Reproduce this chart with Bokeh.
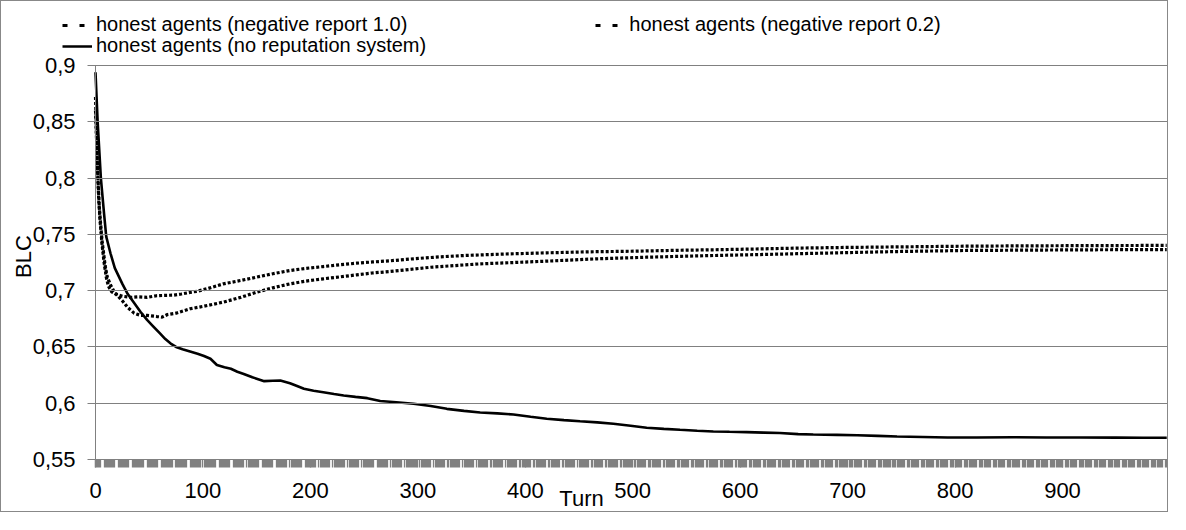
import math
from bokeh.plotting import figure
from bokeh.models import (Range1d, FixedTicker, CustomJSTickFormatter, Legend, LegendItem,
                          Label, LinearAxis)
from bokeh.embed import file_html
from bokeh.resources import INLINE

# ---------------- data ----------------
solid_t = [0, 2, 5, 8, 10, 14, 18, 25, 30, 36, 42, 48, 53, 60, 65, 70, 75, 81, 88, 95,
           101, 107, 113, 120, 126, 132, 138, 146, 157, 165, 172, 181, 187, 194, 203, 212,
           222, 231, 242, 253, 265, 280, 296, 312, 327, 343, 358, 374, 389, 405, 420, 436,
           451, 467, 482, 498, 513, 529, 544, 560, 575, 590, 606, 622, 637, 654, 668, 690,
           709, 728, 746, 770, 793, 820, 854, 885, 916, 950, 975, 997]
solid_v = [0.894, 0.850, 0.800, 0.768, 0.748, 0.733, 0.720, 0.706, 0.697, 0.689, 0.681, 0.674,
           0.669, 0.662, 0.657, 0.653, 0.650, 0.648, 0.646, 0.644, 0.642, 0.6395, 0.634, 0.632,
           0.6306, 0.628, 0.626, 0.623, 0.6196, 0.6200, 0.6202, 0.6178, 0.6155, 0.6128, 0.611,
           0.6098, 0.6082, 0.6069, 0.6056, 0.6045, 0.6020, 0.6008, 0.5995, 0.5975, 0.5950,
           0.5932, 0.5918, 0.5910, 0.5900, 0.5880, 0.5862, 0.5850, 0.5840, 0.5830, 0.5817,
           0.5800, 0.5782, 0.5772, 0.5764, 0.5756, 0.5749, 0.5746, 0.5743, 0.5739, 0.5735,
           0.5725, 0.5722, 0.5719, 0.5716, 0.5710, 0.5704, 0.5700, 0.5695, 0.5696, 0.5698,
           0.5696, 0.5695, 0.5694, 0.5693, 0.5693]

neg10_t = [0, 2, 4, 6, 8, 10, 12, 15, 19, 25, 33, 40, 48, 57, 65, 73, 80, 88, 95, 105, 119,
           135, 150, 165, 181, 196, 212, 228, 243, 258, 274, 296, 320, 343, 380, 420, 460,
           498, 540, 575, 615, 653, 700, 750, 811, 870, 930, 997]
neg10_v = [0.872, 0.805, 0.765, 0.742, 0.725, 0.712, 0.704, 0.699, 0.697, 0.695, 0.694,
           0.6945, 0.694, 0.6955, 0.6958, 0.6960, 0.6970, 0.6985, 0.6995, 0.7020, 0.7060,
           0.7090, 0.7120, 0.7150, 0.7179, 0.7198, 0.7214, 0.7230, 0.7244, 0.7255, 0.7265,
           0.7283, 0.7300, 0.7312, 0.7325, 0.7336, 0.7345, 0.7350, 0.7358, 0.7363, 0.7370,
           0.7378, 0.7384, 0.7389, 0.7395, 0.7398, 0.7400, 0.7402]

neg02_t = [0, 3, 6, 9, 11, 14, 18, 25, 30, 36, 42, 48, 57, 62, 67, 75, 88, 100, 119, 135,
           150, 165, 181, 196, 212, 228, 243, 258, 274, 312, 358, 390, 420, 467, 513, 545,
           575, 615, 653, 700, 750, 811, 870, 930, 997]
neg02_v = [0.860, 0.780, 0.745, 0.722, 0.712, 0.705, 0.698, 0.691, 0.685, 0.680, 0.678,
           0.678, 0.677, 0.6765, 0.6788, 0.680, 0.6839, 0.686, 0.6898, 0.694, 0.6986, 0.7025,
           0.7060, 0.7085, 0.7105, 0.7123, 0.7140, 0.7157, 0.7170, 0.7208, 0.7238, 0.7250,
           0.7262, 0.7283, 0.7297, 0.7305, 0.7312, 0.7320, 0.7328, 0.7338, 0.7348, 0.7357,
           0.7360, 0.7363, 0.7365]

labels = ["honest agents (negative report 1.0)",
          "honest agents (negative report 0.2)",
          "honest agents (no reputation system)"]
x_ticks = [0, 100, 200, 300, 400, 500, 600, 700, 800, 900]
y_ticks = [0.55, 0.6, 0.65, 0.7, 0.75, 0.8, 0.85, 0.9]
x_title = "Turn"
y_title = "BLC"

# ---------------- layout constants (pixels) ----------------
FONT = "Liberation Sans"
GRAY = "#808080"
W, H = 1168, 512
X0_PX, X_PX_PER_UNIT = 94.0, 967.0 / 900.0          # x = 0 at this pixel
Y_TOP_PX, Y_BOT_PX = 64.0, 458.0                     # 0.9 and 0.55 rows
Y_LO, Y_HI = y_ticks[0], y_ticks[-1]
y_px_per_unit = (Y_BOT_PX - Y_TOP_PX) / (Y_HI - Y_LO)

x_range = Range1d(-X0_PX / X_PX_PER_UNIT, (W - X0_PX) / X_PX_PER_UNIT)
y_range = Range1d(Y_LO - (H - Y_BOT_PX) / y_px_per_unit, Y_HI + Y_TOP_PX / y_px_per_unit)

p = figure(width=W, height=H, output_backend="svg", toolbar_location=None, title=None,
           x_range=x_range, y_range=y_range,
           x_axis_location=None, y_axis_location=None,
           min_border=0, min_border_left=0, min_border_right=0,
           min_border_top=0, min_border_bottom=0)
p.styles = {"border": "1px solid #888888"}
p.outline_line_color = None
p.background_fill_color = "white"
p.border_fill_color = "white"
p.grid.visible = False

# y axis at x = 0; its inward ticks form the horizontal gridlines
ya = LinearAxis(fixed_location=0, bounds=(Y_LO, Y_HI),
                ticker=FixedTicker(ticks=y_ticks),
                formatter=CustomJSTickFormatter(
                    code="return tick.toFixed(2).replace(/0$/, '').replace('.', ',');"))
ya.axis_line_color = GRAY
ya.major_tick_line_color = GRAY
ya.major_tick_out = 8
ya.major_tick_in = int(W - X0_PX - 2)
ya.minor_tick_line_color = None
ya.major_label_text_font = FONT
ya.major_label_text_font_size = "22px"
ya.major_label_text_color = "black"
ya.major_label_standoff = 12
p.add_layout(ya, "left")

# x axis at y = 0.55: dense tick band (one tick per turn, periodic thin gaps)
gap_centers = [6.2 + 13.36 * j for j in range(75)]
minor = [k for k in range(0, 998) if min(abs(k - g) for g in gap_centers) >= 1.0]
xa = LinearAxis(fixed_location=Y_LO, ticker=FixedTicker(ticks=x_ticks, minor_ticks=minor))
xa.axis_line_color = None
xa.major_tick_line_color = GRAY
xa.major_tick_line_width = 1.3
xa.major_tick_out = 8
xa.major_tick_in = 0
xa.minor_tick_line_color = GRAY
xa.minor_tick_line_width = 1.3
xa.minor_tick_out = 8
xa.minor_tick_in = 0
xa.major_label_text_font = FONT
xa.major_label_text_font_size = "22px"
xa.major_label_text_color = "black"
xa.major_label_standoff = 15
p.add_layout(xa, "below")

# series
p.line(neg10_t, neg10_v, line_color="black", line_width=3.2, line_dash="3 2")
p.line(neg02_t, neg02_v, line_color="black", line_width=3.2, line_dash="3 2")
p.line(solid_t, solid_v, line_color="black", line_width=2.6)

# legend-only line samples (one undefined point: nothing drawn in the plot)
s10 = p.line([math.nan], [math.nan], line_color="black", line_width=3, line_dash="5 12 5 8")
s02 = p.line([math.nan], [math.nan], line_color="black", line_width=3, line_dash="5 12 5 8")
sno = p.line([math.nan], [math.nan], line_color="black", line_width=2.5)

common = dict(label_text_font=FONT, label_text_font_size="20px", label_text_color="black",
              glyph_width=30, glyph_height=22, label_height=22, label_standoff=4,
              padding=0, margin=0, border_line_color=None, background_fill_alpha=0)

leg_row1 = Legend(items=[LegendItem(label=labels[0], renderers=[s10]),
                         LegendItem(label=labels[1], renderers=[s02])],
                  location=(61, 477), orientation="horizontal", spacing=188, **common)
leg_row2 = Legend(items=[LegendItem(label=labels[2], renderers=[sno])],
                  location=(61, 456), orientation="vertical", spacing=0, **common)
p.add_layout(leg_row1, "center")
p.add_layout(leg_row2, "center")

# axis titles
p.add_layout(Label(x=580, y=15, x_units="screen", y_units="screen", text=x_title,
                   text_font=FONT, text_font_size="22px", text_align="center",
                   text_baseline="middle", text_color="black"))
p.add_layout(Label(x=22, y=257, x_units="screen", y_units="screen", text=y_title,
                   angle=math.pi / 2, text_font=FONT, text_font_size="22px",
                   text_align="center", text_baseline="middle", text_color="black"))

open("out.html", "w").write(file_html(p, INLINE))
